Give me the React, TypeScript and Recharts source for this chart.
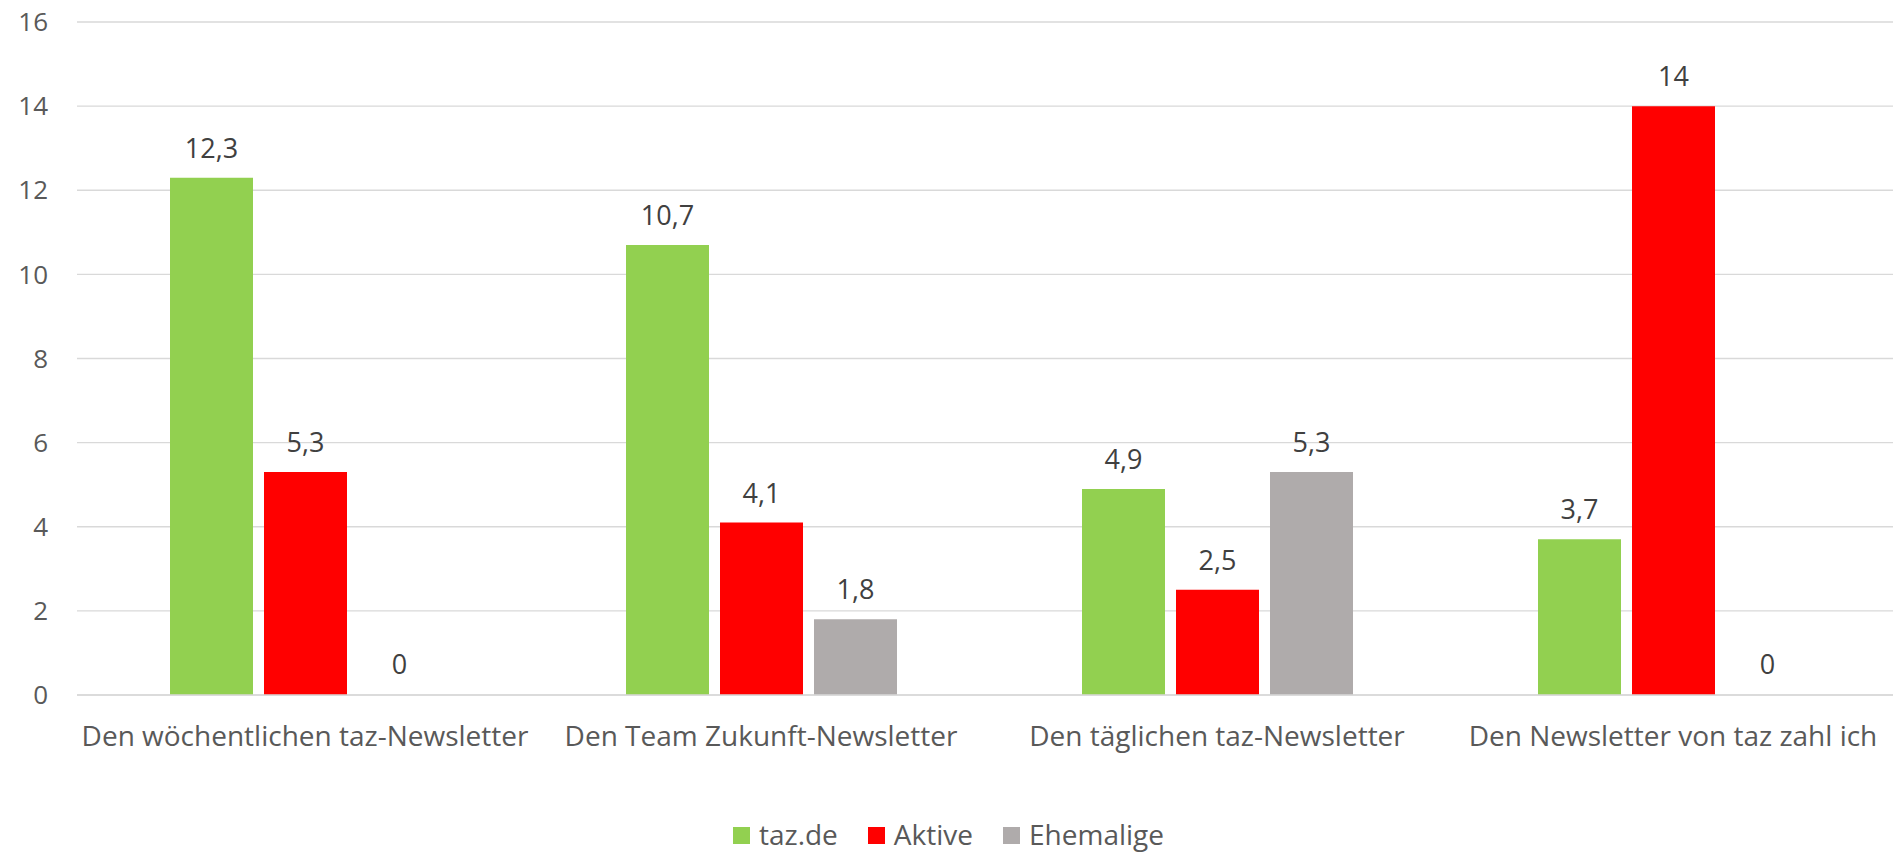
import React from 'react';
import { BarChart, Bar, XAxis, YAxis, CartesianGrid, Legend, LabelList, Rectangle } from 'recharts';

const categories = [
  'Den wöchentlichen taz-Newsletter',
  'Den Team Zukunft-Newsletter',
  'Den täglichen taz-Newsletter',
  'Den Newsletter von taz zahl ich',
];
const tazde = [12.3, 10.7, 4.9, 3.7];
const aktive = [5.3, 4.1, 2.5, 14];
const ehemalige = [0, 1.8, 5.3, 0];
const yTicks = [0, 2, 4, 6, 8, 10, 12, 14, 16];
const seriesNames = ['taz.de', 'Aktive', 'Ehemalige'];
const colors = ['#92d050', '#ff0000', '#afabab'];

const data = categories.map((c, i) => ({
  name: c,
  tazde: tazde[i],
  aktive: aktive[i],
  ehemalige: ehemalige[i],
}));

const FONT = '"Open Sans", Lato, sans-serif';

const fmt = (v: any) => String(v).replace('.', ',');

const renderLegend = () => (
  <div
    style={{
      display: 'flex',
      justifyContent: 'center',
      alignItems: 'center',
      height: 38,
      fontFamily: FONT,
      fontSize: 28,
      color: '#595959',
      transform: 'translateX(-2px)',
      whiteSpace: 'nowrap',
    }}
  >
    {seriesNames.map((n, i) => (
      <div key={n} style={{ display: 'flex', alignItems: 'center', marginRight: i < 2 ? 30 : 0 }}>
        <div style={{ width: 17, height: 17, background: colors[i], marginRight: 9, marginTop: 2 }} />
        <span>{n}</span>
      </div>
    ))}
  </div>
);

const barShape = (props: any) => {
  const v = Array.isArray(props.value) ? props.value[1] - props.value[0] : props.value;
  if (Number(v) === 0) return <g />;
  return <Rectangle {...props} />;
};

export default function App() {
  return (
    <div
      style={{
        position: 'absolute',
        left: 0,
        top: 0,
        width: 1893,
        height: 853,
        overflow: 'hidden',
        background: '#fff',
      }}
    >
      <BarChart
        width={1910}
        height={853}
        data={data}
        margin={{ top: 22, right: 9, left: 0, bottom: 0 }}
        barCategoryGap={92}
        barGap={11}
      >
        <CartesianGrid vertical={false} stroke="#d9d9d9" strokeWidth={1.3} />
        <XAxis
          dataKey="name"
          height={120}
          axisLine={{ stroke: '#d9d9d9', strokeWidth: 1.3 }}
          tickLine={false}
          tickSize={0}
          tickMargin={31}
          tick={{ fill: '#595959', fontSize: 28, fontFamily: FONT }}
          interval={0}
        />
        <YAxis
          width={77}
          domain={[0, 16]}
          ticks={yTicks}
          axisLine={false}
          tickLine={false}
          tickSize={0}
          tickMargin={29}
          tick={{ fill: '#595959', fontSize: 26, fontFamily: FONT }}
        />
        <Legend verticalAlign="bottom" height={38} content={renderLegend} />
        {(['tazde', 'aktive', 'ehemalige'] as const).map((k, i) => (
          <Bar
            key={k}
            dataKey={k}
            name={seriesNames[i]}
            fill={colors[i]}
            barSize={83}
            minPointSize={1}
            shape={barShape}
            isAnimationActive={false}
          >
            <LabelList
              dataKey={k}
              position="top"
              offset={20}
              formatter={fmt}
              style={{ fill: '#404040', fontSize: 27, fontFamily: FONT }}
            />
          </Bar>
        ))}
      </BarChart>
    </div>
  );
}
